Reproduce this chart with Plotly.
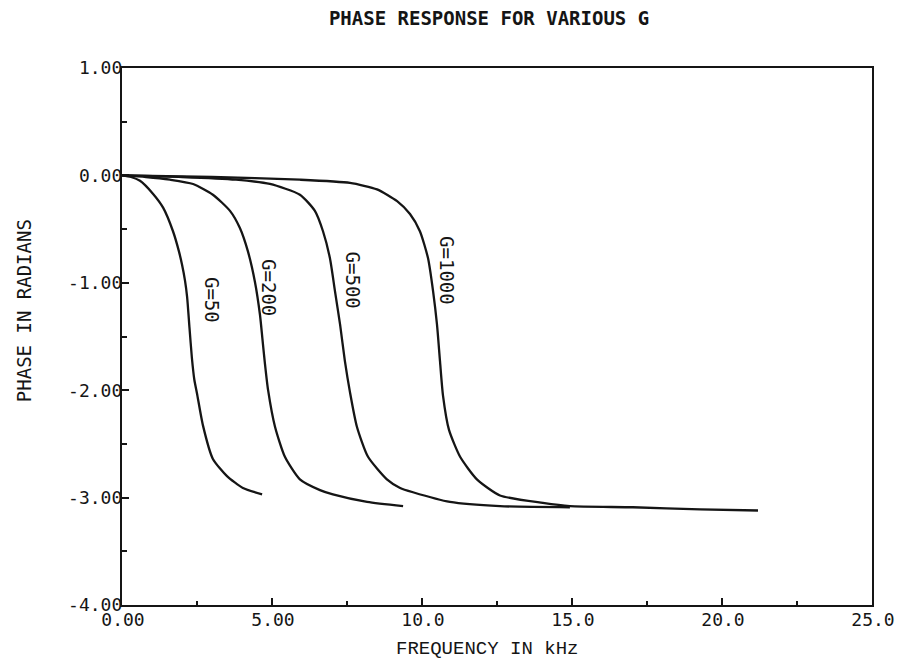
import plotly.graph_objects as go

# ---- data ----
g50_freq = [0, 0.3, 0.6, 1.03, 1.37, 1.7, 1.9, 2.0, 2.1, 2.17, 2.25, 2.33, 2.41, 2.5, 2.7, 3.03, 3.5, 4.03, 4.67]
g50_phase = [0, -0.015, -0.05, -0.17, -0.30, -0.52, -0.71, -0.83, -0.98, -1.13, -1.42, -1.70, -1.90, -2.03, -2.33, -2.64, -2.80, -2.91, -2.97]

g200_freq = [0, 0.8, 1.6, 2.37, 3.03, 3.6, 3.93, 4.2, 4.43, 4.6, 4.68, 4.76, 4.87, 5.1, 5.43, 5.93, 6.6, 7.03, 8.17, 9.37]
g200_phase = [0, -0.015, -0.04, -0.08, -0.18, -0.33, -0.49, -0.71, -0.99, -1.30, -1.52, -1.74, -2.00, -2.34, -2.62, -2.83, -2.93, -2.97, -3.04, -3.08]

g500_freq = [0, 2.0, 3.8, 4.93, 5.93, 6.43, 6.7, 6.93, 7.1, 7.27, 7.43, 7.6, 7.83, 8.2, 8.83, 9.27, 9.7, 10.93, 12.6, 14.93]
g500_phase = [0, -0.015, -0.04, -0.08, -0.18, -0.33, -0.52, -0.77, -1.08, -1.39, -1.73, -2.02, -2.34, -2.62, -2.83, -2.91, -2.95, -3.04, -3.08, -3.09]

g1000_freq = [0, 3.0, 5.93, 7.6, 8.5, 9.17, 9.6, 9.93, 10.2, 10.37, 10.5, 10.6, 10.7, 10.9, 11.27, 11.83, 12.6, 14.03, 14.93, 17.03, 19.27, 21.2]
g1000_phase = [0, -0.015, -0.04, -0.07, -0.13, -0.24, -0.36, -0.52, -0.77, -1.08, -1.39, -1.73, -2.05, -2.37, -2.62, -2.83, -2.98, -3.05, -3.08, -3.09, -3.11, -3.12]

series_names = ["G=50", "G=200", "G=500", "G=1000"]
label_freq = [3.0, 4.9, 7.7, 10.83]
label_phase = [-1.16, -1.04, -0.97, -0.89]

x_tickvals = [0, 5, 10, 15, 20, 25]
x_ticktext = ["0.00", "5.00", "10.0", "15.0", "20.0", "25.0"]
y_tickvals = [1, 0, -1, -2, -3, -4]
y_ticktext = ["1.00", "0.00", "-1.00", "-2.00", "-3.00", "-4.00"]

title_text = "PHASE RESPONSE FOR VARIOUS G"
x_title = "FREQUENCY IN kHz"
y_title = "PHASE IN RADIANS"

INK = "#151515"
MONO = "DejaVu Sans Mono"

fig = go.Figure()
all_x = [g50_freq, g200_freq, g500_freq, g1000_freq]
all_y = [g50_phase, g200_phase, g500_phase, g1000_phase]
for xs, ys, name in zip(all_x, all_y, series_names):
    fig.add_trace(go.Scatter(x=xs, y=ys, mode="lines", name=name,
                             line=dict(color=INK, width=2.3, shape="spline", smoothing=0.6),
                             showlegend=False, hoverinfo="skip"))

for name, lx, ly in zip(series_names, label_freq, label_phase):
    fig.add_annotation(x=lx, y=ly, xref="x", yref="y", text=name, showarrow=False,
                       textangle=90, font=dict(family=MONO, size=19, color=INK))

fig.add_annotation(x=0.487, y=-0.082, xref="paper", yref="paper", text=x_title,
                   showarrow=False, xanchor="center", yanchor="middle",
                   font=dict(family="Liberation Mono", size=19, color=INK))
fig.add_annotation(x=-0.1307, y=0.549, xref="paper", yref="paper", text=y_title,
                   showarrow=False, textangle=-90, xanchor="center", yanchor="middle",
                   font=dict(family=MONO, size=19, color=INK))

# page body has an 8px margin; size the figure so the page does not scroll
fig.update_layout(
    width=888, height=652,
    margin=dict(l=114, r=24, t=60, b=55),
    paper_bgcolor="white", plot_bgcolor="white",
    title=dict(text=title_text, x=0.5417, xanchor="center", y=1 - 10 / 652, yanchor="middle",
               font=dict(family=MONO, size=19, color=INK, weight="bold")),
    xaxis=dict(range=[0, 25], tickmode="array", tickvals=x_tickvals, ticktext=x_ticktext,
               showgrid=False, zeroline=False, showline=True, linecolor=INK, linewidth=2.2,
               mirror=True, ticks="inside", ticklen=7, tickwidth=1.5, tickcolor=INK,
               ticklabelshift=1, ticklabelstandoff=-3, automargin=False,
               ticklabeloverflow="allow",
               minor=dict(dtick=2.5, tick0=0, ticks="inside", ticklen=4, tickcolor=INK, tickwidth=1.5),
               tickfont=dict(family=MONO, size=18, color=INK)),
    yaxis=dict(range=[-4, 1], tickmode="array", tickvals=y_tickvals, ticktext=y_ticktext,
               showgrid=False, zeroline=False, showline=True, linecolor=INK, linewidth=2.2,
               mirror=True, ticks="inside", ticklen=7, tickwidth=1.5, tickcolor=INK,
               ticklabelstandoff=-6, automargin=False,
               minor=dict(dtick=0.5, tick0=0, ticks="inside", ticklen=5, tickcolor=INK, tickwidth=1.5),
               tickfont=dict(family=MONO, size=18, color=INK)),
)

fig.write_html("out.html")
